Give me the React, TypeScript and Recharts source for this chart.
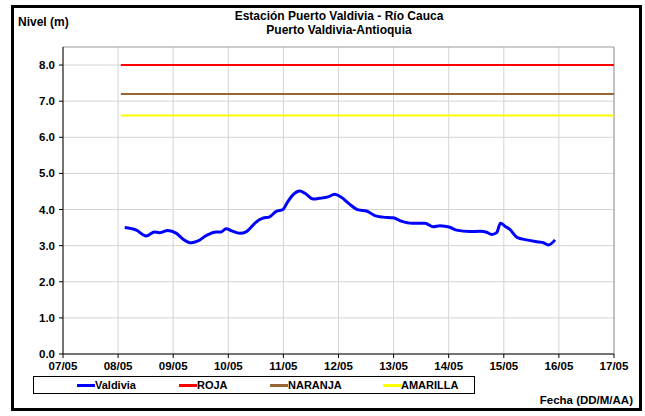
import React from 'react'
import { LineChart, Line, XAxis, YAxis, CartesianGrid, Legend, ReferenceLine } from 'recharts'

// Nivel del río Cauca, estación Puerto Valdivia (día de mayo, nivel en m)
const valdiviaDias = [
  8.12, 8.33, 8.51, 8.66, 8.75, 8.9, 9.06, 9.18, 9.33, 9.45, 9.6, 9.78, 9.87, 9.96,
  10.06, 10.21, 10.33, 10.42, 10.51, 10.63, 10.75, 10.87, 10.99, 11.08, 11.17, 11.3,
  11.39, 11.54, 11.66, 11.81, 11.93, 12.05, 12.2, 12.36, 12.51, 12.66, 12.81, 12.99,
  13.14, 13.33, 13.57, 13.72, 13.84, 13.93, 14.02, 14.14, 14.38, 14.57, 14.69, 14.78,
  14.87, 14.94, 15.02, 15.11, 15.24, 15.41, 15.6, 15.72, 15.81, 15.93
]
const valdiviaNivel = [
  3.5, 3.43, 3.27, 3.38, 3.36, 3.42, 3.34, 3.18, 3.08, 3.13, 3.28, 3.38, 3.38, 3.47,
  3.41, 3.34, 3.39, 3.52, 3.66, 3.76, 3.8, 3.95, 4.0, 4.22, 4.4, 4.51,
  4.45, 4.29, 4.31, 4.35, 4.42, 4.34, 4.15, 3.99, 3.96, 3.83, 3.79, 3.77,
  3.68, 3.62, 3.62, 3.52, 3.55, 3.54, 3.51, 3.43, 3.39, 3.4, 3.37, 3.31,
  3.36, 3.62, 3.54, 3.45, 3.23, 3.16, 3.11, 3.08, 3.02, 3.16
]

// Umbrales de alerta
const umbralDias = [8.05, 17]
const nivelRoja = 8.0
const nivelNaranja = 7.2
const nivelAmarilla = 6.6

const ticksX = [7, 8, 9, 10, 11, 12, 13, 14, 15, 16, 17]
const ticksY = [0, 1, 2, 3, 4, 5, 6, 7, 8]

const series = [
  { name: 'Valdivia', color: '#0000ff' },
  { name: 'ROJA', color: '#ff0000' },
  { name: 'NARANJA', color: '#996633' },
  { name: 'AMARILLA', color: '#ffff00' }
]
const legendOffsets = [43, 145, 236, 349]

const valdiviaData = valdiviaDias.map((dia, i) => ({ dia, nivel: valdiviaNivel[i] }))
const umbral = (nivel: number) => umbralDias.map((dia) => ({ dia, nivel }))

const FONT = '"Liberation Sans", Arial, sans-serif'

const fmtFecha = (d: number) => `${String(d).padStart(2, '0')}/05`

const LegendBox = () => (
  <div
    style={{
      position: 'relative',
      width: 442,
      height: 18,
      border: '1px solid #000',
      boxSizing: 'border-box',
      background: '#fff'
    }}
  >
    {series.map((s, i) => (
      <div
        key={s.name}
        style={{
          position: 'absolute',
          left: legendOffsets[i],
          top: 1,
          display: 'flex',
          alignItems: 'center',
          height: 14
        }}
      >
        <span style={{ display: 'inline-block', width: 18, height: 3, background: s.color }} />
        <span style={{ fontSize: 11, fontWeight: 'bold', color: '#000', fontFamily: FONT }}>{s.name}</span>
      </div>
    ))}
  </div>
)

export default function App() {
  return (
    <div style={{ position: 'absolute', left: 0, top: 0, width: 645, height: 416, background: '#fff', fontFamily: FONT }}>
      <div
        style={{
          position: 'absolute',
          left: 11,
          top: 5,
          width: 631,
          height: 406,
          border: '3px solid #000',
          boxSizing: 'border-box'
        }}
      />
      <div style={{ position: 'absolute', left: 0, width: 678, top: 9, textAlign: 'center', fontSize: 12, fontWeight: 'bold', lineHeight: '14px' }}>
        Estación Puerto Valdivia - Río Cauca
        <br />
        Puerto Valdivia-Antioquia
      </div>
      <div style={{ position: 'absolute', left: 18, top: 15, fontSize: 12, fontWeight: 'bold' }}>Nivel (m)</div>
      <div style={{ position: 'absolute', right: 12, top: 394, fontSize: 11.5, fontWeight: 'bold' }}>Fecha (DD/M/AA)</div>

      <LineChart width={645} height={416} margin={{ top: 47, right: 31, bottom: 32, left: 0 }} style={{ position: 'absolute', left: 0, top: 0 }}>
        <CartesianGrid stroke="#d4d4d4" strokeWidth={1} horizontalValues={ticksY} verticalValues={ticksX} />
        <XAxis
          type="number"
          dataKey="dia"
          domain={[7, 17]}
          ticks={ticksX}
          tickFormatter={fmtFecha}
          allowDataOverflow
          stroke="#000"
          tickSize={4}
          tick={{ fill: '#000', fontSize: 11.5, fontWeight: 'bold', fontFamily: FONT }}
          tickMargin={4}
        />
        <YAxis
          type="number"
          dataKey="nivel"
          domain={[0, 8.5]}
          ticks={ticksY}
          tickFormatter={(v: number) => v.toFixed(1)}
          width={63}
          allowDataOverflow
          stroke="#000"
          tickSize={4}
          tick={{ fill: '#000', fontSize: 11.5, fontWeight: 'bold', fontFamily: FONT }}
          tickMargin={4}
        />
        <ReferenceLine y={8.5} stroke="#9a9a9a" />
        <ReferenceLine x={17} stroke="#9a9a9a" />
        <Legend
          layout="horizontal"
          verticalAlign="middle"
          align="center"
          wrapperStyle={{ left: 33, top: 376, width: 442, height: 18 }}
          content={() => <LegendBox />}
        />
        <Line data={umbral(nivelRoja)} dataKey="nivel" name="ROJA" stroke="#ff0000" strokeWidth={2} dot={false} isAnimationActive={false} />
        <Line data={umbral(nivelNaranja)} dataKey="nivel" name="NARANJA" stroke="#996633" strokeWidth={2} dot={false} isAnimationActive={false} />
        <Line data={umbral(nivelAmarilla)} dataKey="nivel" name="AMARILLA" stroke="#ffff00" strokeWidth={2} dot={false} isAnimationActive={false} />
        <Line data={valdiviaData} dataKey="nivel" name="Valdivia" type="monotone" stroke="#0000ff" strokeWidth={3} dot={false} isAnimationActive={false} />
      </LineChart>
    </div>
  )
}
